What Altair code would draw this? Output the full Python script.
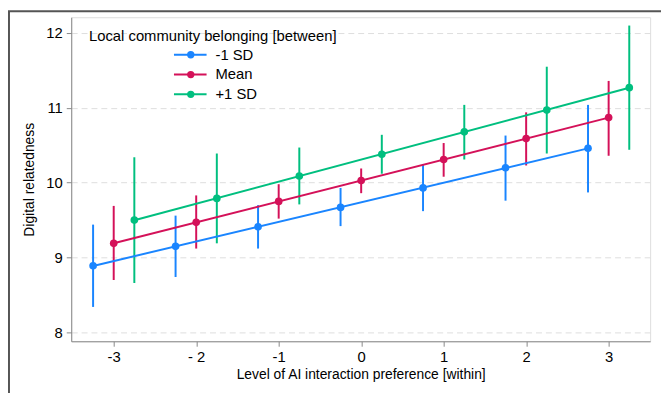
import altair as alt
import pandas as pd

series = ["-1 SD", "Mean", "+1 SD"]
colors = ["#1A85FF", "#D41159", "#00BF7F"]

x_blue = [-3.25, -2.25, -1.25, -0.25, 0.75, 1.75, 2.75]
y_blue = [8.89, 9.15, 9.41, 9.67, 9.93, 10.20, 10.46]
lo_blue = [8.34, 8.74, 9.12, 9.42, 9.62, 9.76, 9.87]
hi_blue = [9.44, 9.56, 9.70, 9.93, 10.25, 10.63, 11.04]

x_red = [-3, -2, -1, 0, 1, 2, 3]
y_red = [9.19, 9.47, 9.75, 10.03, 10.31, 10.59, 10.87]
lo_red = [8.70, 9.12, 9.52, 9.86, 10.08, 10.23, 10.36]
hi_red = [9.69, 9.83, 9.98, 10.19, 10.53, 10.94, 11.36]

x_green = [-2.75, -1.75, -0.75, 0.25, 1.25, 2.25, 3.25]
y_green = [9.50, 9.79, 10.09, 10.38, 10.68, 10.97, 11.27]
lo_green = [8.66, 9.19, 9.71, 10.12, 10.31, 10.39, 10.44]
hi_green = [10.34, 10.39, 10.47, 10.64, 11.04, 11.55, 12.10]

x_ticks = [-3, -2, -1, 0, 1, 2, 3]
x_tick_labels = ["-3", "- 2", "-1", "0", "1", "2", "3"]
y_ticks = [8, 9, 10, 11, 12]

legend_title = "Local community belonging [between]"
x_title = "Level of AI interaction preference [within]"
y_title = "Digital relatedness"

rows = []
for s, xs, ys, los, his in [
    (series[0], x_blue, y_blue, lo_blue, hi_blue),
    (series[1], x_red, y_red, lo_red, hi_red),
    (series[2], x_green, y_green, lo_green, hi_green),
]:
    for a, b, c, d in zip(xs, ys, los, his):
        rows.append({"series": s, "x": a, "y": b, "lo": c, "hi": d})
df = pd.DataFrame(rows)

FONT = "Liberation Sans"
W, H = 586, 328

label_expr = "''"
for v, l in reversed(list(zip(x_ticks, x_tick_labels))):
    label_expr = f"datum.value == {v} ? '{l}' : ({label_expr})"

xscale = alt.Scale(domain=[-3.515, 3.503], nice=False, zero=False)
yscale = alt.Scale(domain=[7.881, 12.211], nice=False, zero=False)
cscale = alt.Scale(domain=series, range=colors)

xenc = alt.X("x:Q", scale=xscale, title=x_title,
             axis=alt.Axis(values=x_ticks, labelExpr=label_expr, grid=False,
                           tickSize=5, labelPadding=3, titlePadding=4,
                           labelFontSize=15, titleFontSize=14,
                           titleFontWeight="normal", labelFont=FONT, titleFont=FONT))
yenc = alt.Y("y:Q", scale=yscale, title=y_title,
             axis=alt.Axis(values=y_ticks, format="d", grid=True, gridDash=[6, 4],
                           gridColor="#dddddd", tickSize=5, labelPadding=4,
                           titlePadding=9, labelFontSize=15, titleFontSize=14,
                           titleFontWeight="normal", labelFont=FONT, titleFont=FONT))
cenc = alt.Color("series:N", scale=cscale, legend=None)

base = alt.Chart(df)

bars = base.mark_rule(strokeWidth=2).encode(
    x=alt.X("x:Q", scale=xscale),
    y=alt.Y("lo:Q", scale=yscale),
    y2="hi:Q",
    color=cenc,
)
lines = base.transform_regression("x", "y", groupby=["series"]).mark_line(strokeWidth=2).encode(
    x=alt.X("x:Q", scale=xscale), y=alt.Y("y:Q", scale=yscale), color=cenc
)
points = base.mark_circle(size=60, opacity=1).encode(x=xenc, y=yenc, color=cenc)

# frame around the figure
frame = alt.Chart(pd.DataFrame({"a": [0]})).mark_rect(
    fill=None, stroke="#555555", strokeWidth=2, clip=False
).encode(x=alt.value(-63), x2=alt.value(800), y=alt.value(-6), y2=alt.value(600))

# manual legend (Stata style: entries centred under title)
leg_layers = [
    alt.Chart(pd.DataFrame({"a": [0]})).mark_text(
        text=legend_title, align="left", baseline="middle", fontSize=15, font=FONT,
        fontWeight=400, color="black"
    ).encode(x=alt.value(18), y=alt.value(19))
]
for i, (s, c) in enumerate(zip(series, colors)):
    yy = 38 + i * 20
    d = pd.DataFrame({"a": [0]})
    leg_layers.append(alt.Chart(d).mark_rule(strokeWidth=2, color=c).encode(
        x=alt.value(104), x2=alt.value(137), y=alt.value(yy)))
    leg_layers.append(alt.Chart(d).mark_circle(size=55, opacity=1, color=c).encode(
        x=alt.value(121), y=alt.value(yy)))
    leg_layers.append(alt.Chart(d).mark_text(
        text=s, align="left", baseline="middle", fontSize=15, font=FONT,
        fontWeight=400, color="black"
    ).encode(x=alt.value(146), y=alt.value(yy)))

chart = alt.layer(frame, bars, lines, points, *leg_layers).properties(
    width=W, height=H,
    autosize=alt.AutoSizeParams(type="none"),
    padding={"left": 64, "top": 7, "right": 11, "bottom": 50},
).configure_view(stroke=None).configure_axis(
    domainColor="#666666", domainWidth=1.5, tickColor="#666666", tickWidth=1.5,
    labelColor="black", titleColor="black", labelFont=FONT, titleFont=FONT,
    titleFontWeight="normal",
).configure(background="white")

chart.save("out.html", embed_options={"renderer": "svg", "actions": False})
